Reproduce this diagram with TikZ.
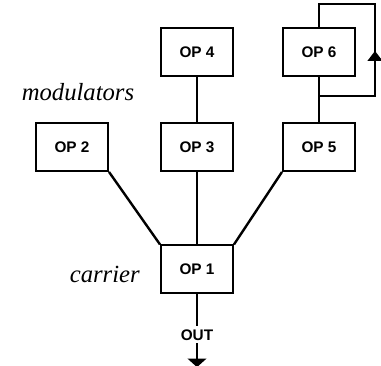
\documentclass[tikz,border=0pt]{standalone}
\usepackage{fontspec}
\setmainfont{Liberation Serif}
\newfontfamily\opfont{Liberation Sans}
\usepackage{tikz}
\usetikzlibrary{arrows.meta,positioning,decorations.markings}

\begin{document}
\begin{tikzpicture}[
    node distance=54.4pt and 38pt,
    box/.style={draw,line width=1.5pt,minimum width=54pt,minimum height=36pt,
                inner sep=0pt,font=\opfont\bfseries\fontsize{11.5}{13}\selectfont},
    wire/.style={line width=1.8pt},
    group/.style={inner sep=0pt,font=\itshape\fontsize{18.5}{20}\selectfont},
    outtip/.style={-{Triangle[width=14pt,length=6.5pt]}},
    looptip/.style={postaction={decorate},decoration={markings,
                mark=at position 0.447 with {\arrow{Triangle[width=11pt,length=7.5pt]}}}}
  ]
    \useasboundingbox (-147.75pt,-72.4pt) rectangle (138pt,202.1pt);

    \node[box] (op1) at (0,0) {OP 1};
    \node[box,above=of op1] (op3) {OP 3};
    \node[box,left=38.25pt of op3] (op2) {OP 2};
    \node[box,right=36pt of op3] (op5) {OP 5};
    \node[box,above=33.4pt of op3] (op4) {OP 4};
    \node[box,above=33.4pt of op5] (op6) {OP 6};

    \node[group,above=15.75pt of op2,xshift=4.5pt] (mod) {modulators};
    \node[group,left=15pt of op1,yshift=-3.75pt] (car) {carrier};

    \node[inner sep=2pt,font=\opfont\bfseries\fontsize{11.5}{13}\selectfont,below=24pt of op1] (out) {OUT};
    \coordinate[below=18pt of out] (outend);

    % connectors
    \draw[wire] (op2.south east) -- (op1.north west);
    \draw[wire] (op3) -- (op1);
    \draw[wire] (op5.south west) -- (op1.north east);
    \draw[wire] (op4) -- (op3);
    \draw[wire] (op6) -- (op5);
    \draw[wire] (op1) -- (out);
    \draw[wire,outtip] (out) -- (outend);

    % feedback
    \coordinate[below=14.25pt of op6.south] (fb);
    \coordinate[right=42pt of fb] (fbr);
    \coordinate[above=17.25pt of op6.north] (fbt);
    \draw[line width=1.5pt,looptip] (fb) -- (fbr) -- (fbr |- fbt) -- (fbt) -- (op6.north);
  \end{tikzpicture}
\end{document}
